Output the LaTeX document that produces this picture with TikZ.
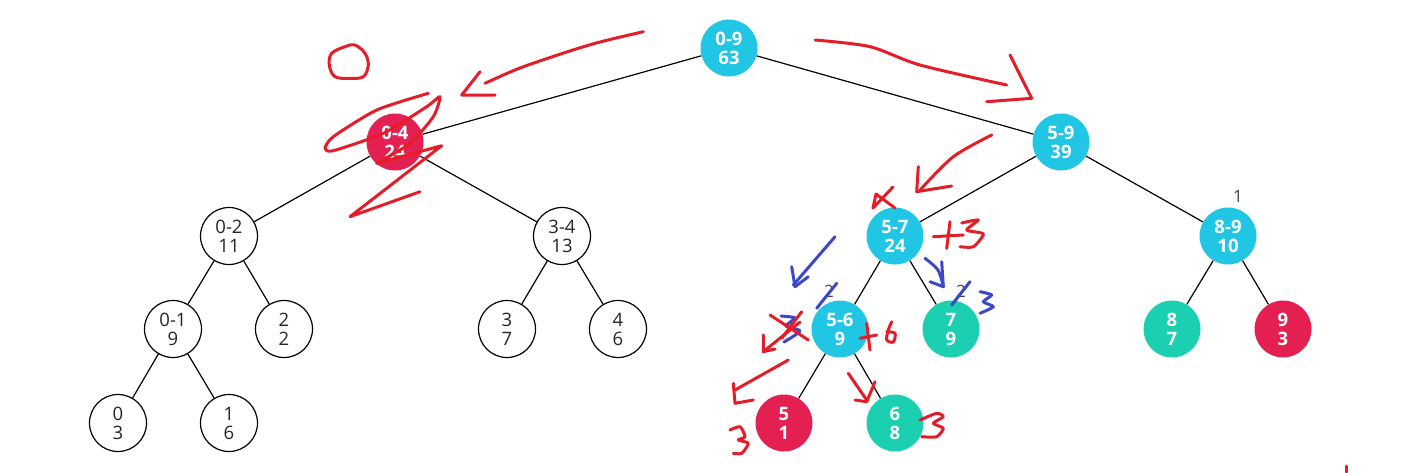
\documentclass[tikz,border=0pt]{standalone}
\usepackage{fontspec}
\setmainfont{Open Sans}
\definecolor{cyanN}{RGB}{32,198,228}
\definecolor{redN}{RGB}{228,32,82}
\definecolor{tealN}{RGB}{26,208,176}
\definecolor{inkR}{RGB}{228,30,40}
\definecolor{inkB}{RGB}{60,72,200}
\definecolor{smallG}{RGB}{70,70,70}
\tikzset{
  nd/.style={circle, minimum size=57pt, inner sep=0pt, align=center,
    font=\fontsize{18.5}{19}\selectfont},
  wnode/.style={nd, draw=black, line width=1.2pt, fill=white, text=black!85},
  cnode/.style={nd, fill=cyanN, text=white, font=\fontsize{18.5}{19}\selectfont\bfseries},
  rnode/.style={nd, fill=redN, text=white, font=\fontsize{18.5}{19}\selectfont\bfseries},
  tnode/.style={nd, fill=tealN, text=white, font=\fontsize{18.5}{19}\selectfont\bfseries},
  edge/.style={line width=1.2pt, black},
  redink/.style={inkR, line width=3pt, line cap=round, line join=round},
  blueink/.style={inkB, line width=3pt, line cap=round, line join=round},
  smallnum/.style={text=smallG, font=\fontsize{17}{17}\selectfont}
}
\begin{document}
\begin{tikzpicture}[x=1pt,y=-1pt]
\useasboundingbox (0,0) rectangle (1418,472);
% nodes
\node[cnode] (n09) at (729,48) {0-9\\63};
\node[rnode] (n04) at (395,142) {0-4\\24};
\node[cnode] (n59) at (1061,142) {5-9\\39};
\node[wnode] (n02) at (229,236) {0-2\\11};
\node[wnode] (n34) at (562,236) {3-4\\13};
\node[cnode] (n57) at (895,236) {5-7\\24};
\node[cnode] (n89) at (1228,236) {8-9\\10};
\node[wnode] (n01) at (173,329) {0-1\\9};
\node[wnode] (n2) at (284,329) {2\\2};
\node[wnode] (n3) at (507,329) {3\\7};
\node[wnode] (n4) at (618,329) {4\\6};
\node[cnode] (n56) at (840,329) {5-6\\9};
\node[tnode] (n7) at (951,329) {7\\9};
\node[tnode] (n8) at (1172,329) {8\\7};
\node[rnode] (n9) at (1283,329) {9\\3};
\node[wnode] (n0) at (118,423) {0\\3};
\node[wnode] (n1) at (229,423) {1\\6};
\node[rnode] (n5) at (784,423) {5\\1};
\node[tnode] (n6) at (895,423) {6\\8};
% edges
\draw[edge] (n09) -- (n04);
\draw[edge] (n09) -- (n59);
\draw[edge] (n04) -- (n02);
\draw[edge] (n04) -- (n34);
\draw[edge] (n59) -- (n57);
\draw[edge] (n59) -- (n89);
\draw[edge] (n02) -- (n01);
\draw[edge] (n02) -- (n2);
\draw[edge] (n34) -- (n3);
\draw[edge] (n34) -- (n4);
\draw[edge] (n57) -- (n56);
\draw[edge] (n57) -- (n7);
\draw[edge] (n89) -- (n8);
\draw[edge] (n89) -- (n9);
\draw[edge] (n01) -- (n0);
\draw[edge] (n01) -- (n1);
\draw[edge] (n56) -- (n5);
\draw[edge] (n56) -- (n6);
% small labels
\node[smallnum] (l1) at (1238,196) {1};
\node[smallnum] (l2a) at (829,291) {2};
\node[smallnum] (l2b) at (961,291) {2};
% red hand annotations, left
\draw[redink] plot[smooth cycle, tension=0.6] coordinates {(331.7,53.3) (345,46.7) (355,45) (365,53.3) (368.3,65) (363.3,76.7) (350,78.3) (335,76.7) (329.3,65)};
\draw[redink] plot[smooth, tension=0.5] coordinates {(643.3,31.7) (600,42) (566.7,52) (520,68) (485,83.3)};
\draw[redink] (480,71.7) -- (461.7,95) -- (495,95);
\draw[redink] plot[smooth, tension=0.4] coordinates {(428.3,93.3) (376.7,110) (333.3,136.7) (325,148.3) (333.3,150.7) (383.3,133.3) (426.7,106.7) (440,96.7) (433.3,116.7) (410,143.3) (376.7,163.3)};
\draw[redink] (376.7,163.3) -- (441.7,145.7) -- (350,216.7) -- (420,191.7);
% red hand annotations, right
\draw[redink] plot[smooth, tension=0.5] coordinates {(815,40) (870,46.7) (920,65) (1006.7,85)};
\draw[redink] (1010,55) -- (1031.7,98.3) -- (986.7,101.7);
\draw[redink] plot[smooth, tension=0.5] coordinates {(991.7,135) (953.3,156.7) (920,190)};
\draw[redink] (918.3,166.7) -- (916.7,191.7) -- (951.7,186);
\draw[redink] (893,187) -- (873,208) -- (876,194) -- (895,208);
\draw[redink] (933.3,236.7) -- (963.3,235);
\draw[redink] (950,221.7) -- (946.7,248.3);
\draw[redink] plot[smooth, tension=0.4] coordinates {(961.7,223) (978.3,220) (966.7,230) (983.3,234) (973.3,246.7) (960,246.7)};
% blue hand annotations
\draw[blueink] (835,236.7) -- (793.3,285);
\draw[blueink] (791.7,266.7) -- (795,286.7) -- (808.3,276.7);
\draw[blueink] plot[smooth, tension=0.5] coordinates {(925,258.3) (938,270) (943.3,286.7)};
\draw[blueink] (941.7,261.7) -- (943.3,286.7) -- (930,281.7);
\draw[blueink] (970,281.7) -- (951.7,305);
\draw[blueink] plot[smooth, tension=0.4] coordinates {(980,291.7) (991.7,295) (983.3,301.7) (993.3,306.7) (980,313.3)};
\draw[blueink] (836.7,283.3) -- (816.7,308.3);
\draw[blueink] plot[smooth, tension=0.4] coordinates {(781,316) (795,318) (786,326) (800,331) (784,342)};
% red over blue
\draw[redink] (770,315) -- (808.3,340);
\draw[redink] (801.7,311.7) -- (781.7,338.3);
\draw[redink] (800,322) -- (763.3,351.7);
\draw[redink] (763.3,335) -- (763.3,351.7) -- (775,349);
\draw[redink] (860,338.3) -- (876.7,335);
\draw[redink] (866.7,323.3) -- (870,350);
\draw[redink] plot[smooth, tension=0.5] coordinates {(891.7,321.7) (888.3,330) (886.7,340) (893.3,342) (895,333.3) (886.7,331.7)};
\draw[redink] (788.3,360) -- (735,390);
\draw[redink] (733.3,383.3) -- (735,403.3) -- (753.3,400);
\draw[redink] (848.3,373.3) -- (866.7,400);
\draw[redink] (875,381.7) -- (866.7,401.7) -- (855,400);
\draw[redink] plot[smooth, tension=0.4] coordinates {(730,430) (740,426.7) (745,436.7) (738.3,440) (748.3,443.3) (741.7,453.3) (733.3,453.3)};
\draw[redink] plot[smooth, tension=0.4] coordinates {(920,420) (936.7,413.3) (943.3,416.7) (933.3,423.3) (943.3,428.3) (936.7,436.7) (921.7,436.7)};
\draw[redink] (1346,466) -- (1346,472);
\end{tikzpicture}
\end{document}
